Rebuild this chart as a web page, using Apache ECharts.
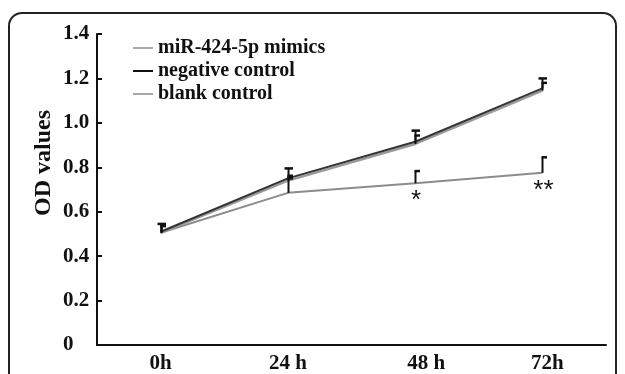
<!DOCTYPE html>
<html>
<head>
<meta charset="utf-8">
<script src="https://cdn.jsdelivr.net/npm/echarts@6/dist/echarts.min.js"></script>
<style>
html,body{margin:0;padding:0;background:#fff;}
#c{width:625px;height:374px;}
</style>
</head>
<body>
<div id="c"></div>
<script>
// ---- data ----
const categories = ['0h', '24 h', '48 h', '72h'];
const seriesNames = ['miR-424-5p mimics', 'negative control', 'blank control'];
const mimics = [0.505, 0.685, 0.728, 0.775];
const negative = [0.51, 0.75, 0.915, 1.155];
const blank = [0.505, 0.74, 0.905, 1.145];
const mimicsErr = [0.035, 0.065, 0.055, 0.07];
const negativeErr = [0.035, 0.045, 0.05, 0.045];
const blankErr = [0.03, 0.022, 0.038, 0.035];
const yMin = 0, yMax = 1.4, yStep = 0.2;
const annotations = [['48 h', '*'], ['72h', '**']];
const labelShift = [0, 0, 22, 10]; // left padding on x labels (styling only)

const FONT = '"Liberation Serif", "Times New Roman", serif';
const chart = echarts.init(document.getElementById('c'), null, {renderer: 'canvas'});

function errData(vals, errs) {
  return vals.map((v, i) => [i, v, v + errs[i]]);
}
function errSeries(name, vals, errs, capMode) {
  return {
    type: 'custom',
    name: name + ' err',
    z: 5,
    data: errData(vals, errs),
    renderItem: function (params, api) {
      const p0 = api.coord([api.value(0), api.value(1)]);
      const p1 = api.coord([api.value(0), api.value(2)]);
      const x = Math.round(p0[0]) + 0.5;
      const capL = capMode === 'full' ? x - 4 : x - 1;
      const capR = x + 4.5;
      return {
        type: 'group',
        children: [
          {type: 'line', shape: {x1: x, y1: p0[1], x2: x, y2: p1[1]}, style: {stroke: '#111', lineWidth: 2}},
          {type: 'line', shape: {x1: capL, y1: p1[1], x2: capR, y2: p1[1]}, style: {stroke: '#111', lineWidth: 2.5}}
        ]
      };
    }
  };
}

const lineBase = {type: 'line', symbol: 'none', smooth: false, z: 3};

chart.setOption({
  animation: false,
  backgroundColor: '#fff',
  grid: {left: 97, right: 19, top: 34, bottom: 26},
  legend: {
    orient: 'vertical', left: 128, top: 33, itemGap: 3,
    itemWidth: 20, itemHeight: 2, icon: 'rect',
    textStyle: {fontFamily: FONT, fontWeight: 'bold', fontSize: 20, color: '#111'},
    data: [
      {name: seriesNames[0], itemStyle: {color: '#a8a8a8'}},
      {name: seriesNames[1], itemStyle: {color: '#111'}},
      {name: seriesNames[2], itemStyle: {color: '#a8a8a8'}}
    ]
  },
  xAxis: {
    type: 'category',
    data: categories.map((c, i) => ({value: c, textStyle: {padding: [0, 0, 0, labelShift[i]]}})),
    boundaryGap: true,
    axisLine: {lineStyle: {color: '#111', width: 2}},
    axisTick: {inside: true, length: 4, lineStyle: {color: '#111', width: 2}},
    axisLabel: {fontFamily: FONT, fontWeight: 'bold', fontSize: 21, color: '#111', margin: 8}
  },
  yAxis: {
    type: 'value', min: yMin, max: yMax, interval: yStep,
    splitLine: {show: false},
    axisLine: {show: true, lineStyle: {color: '#111', width: 2}},
    axisTick: {show: true, inside: true, length: 5, lineStyle: {color: '#111', width: 2}},
    axisLabel: {
      fontFamily: FONT, fontWeight: 'bold', fontSize: 21, color: '#111',
      align: 'left', margin: 34,
      formatter: v => v === 0 ? '0' : v.toFixed(1)
    }
  },
  graphic: [
    {type: 'rect', shape: {x: 9, y: 13, width: 607, height: 420, r: 13},
     style: {fill: 'none', stroke: '#222', lineWidth: 2}, z: 100},
    {type: 'text', x: 44, y: 163, rotation: Math.PI / 2,
     style: {text: 'OD values', fontFamily: FONT, fontWeight: 'bold', fontSize: 24,
             fill: '#111', textAlign: 'center', textVerticalAlign: 'middle'}}
  ],
  series: [
    Object.assign({}, lineBase, {name: seriesNames[0], data: mimics, itemStyle: {color: '#a8a8a8'},
      lineStyle: {color: '#8c8c8c', width: 2}}),
    Object.assign({}, lineBase, {name: seriesNames[2], data: blank, itemStyle: {color: '#a8a8a8'},
      lineStyle: {color: '#9a9a9a', width: 2.5}}),
    Object.assign({}, lineBase, {name: seriesNames[1], data: negative, itemStyle: {color: '#111'},
      lineStyle: {color: '#333', width: 2}}),
    errSeries('mimics', mimics, mimicsErr, 'right'),
    errSeries('blank', blank, blankErr, 'right'),
    errSeries('negative', negative, negativeErr, 'full'),
    {
      type: 'custom', name: 'sig', z: 6,
      data: annotations.map(a => {
        const i = categories.indexOf(a[0]);
        return [i, mimics[i], a[1]];
      }),
      renderItem: function (params, api) {
        const p = api.coord([api.value(0), api.value(1)]);
        const txt = annotations[params.dataIndex][1];
        return {
          type: 'text', x: p[0] + 1, y: p[1] + 5,
          style: {text: txt, fontFamily: '"Liberation Sans", Arial, sans-serif', fontSize: 26,
                  fill: '#111', textAlign: 'center', textVerticalAlign: 'top'}
        };
      }
    }
  ]
});
</script>
</body>
</html>
